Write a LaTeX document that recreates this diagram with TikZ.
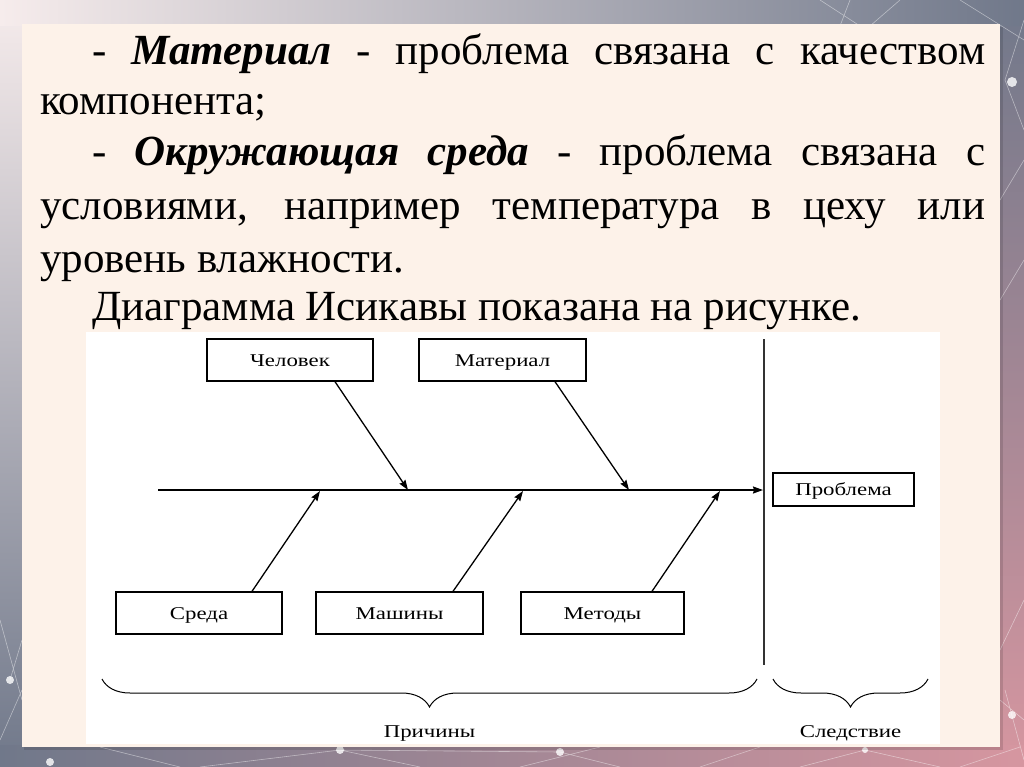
\documentclass[tikz,border=0pt]{standalone}
\usepackage{fontspec}
\setmainfont{Liberation Serif}
\newfontfamily\diagfont[FakeStretch=1.27]{Liberation Serif}
\usetikzlibrary{arrows.meta,decorations.pathreplacing}
\definecolor{cream}{RGB}{253,242,233}
\definecolor{slate}{RGB}{112,120,138}
\definecolor{blush}{RGB}{236,205,208}
\definecolor{rose}{RGB}{214,150,160}
\definecolor{mist}{RGB}{246,236,236}
\definecolor{mauve}{RGB}{170,140,155}
\begin{document}
\begin{tikzpicture}[x=1pt,y=-1pt,
  txt/.style={anchor=base west, inner sep=0, font=\fontsize{43}{50}\selectfont},
  box/.style={draw=black, line width=1.3pt, inner sep=0, text height=12pt, text depth=0pt, font=\diagfont\fontsize{18}{20}\selectfont},
  lbl/.style={anchor=base, inner sep=0, font=\diagfont\fontsize{18}{20}\selectfont},
  arr/.style={line width=1.3pt, -{Stealth[length=10pt,width=7pt,inset=1pt]}},
  net/.style={white, opacity=0.45, line width=0.6pt},
  dot/.style={white, opacity=0.8},
  brc/.style={line width=1pt, decorate, decoration={brace, mirror, amplitude=28pt}}
]
\useasboundingbox (0,0) rectangle (1024,767);
% background frame
\fill[slate] (0,0) rectangle (1024,767);
\shade[top color=mist, bottom color=slate] (0,0) rectangle (24,767);
\shade[top color=slate, bottom color=rose] (998,0) rectangle (1024,767);
\shade[left color=mist, middle color=blush, right color=slate] (0,0) rectangle (1024,26);
\shade[left color=slate, middle color=mauve, right color=rose] (0,745) rectangle (1024,767);
% network lines
\draw[net] (820,0) -- (860,26) (850,0) -- (840,26) (900,0) -- (870,26) (960,0) -- (1024,40)
  (1005,80) -- (1024,20) (1005,80) -- (1024,130) (1000,200) -- (1024,160) (1000,300) -- (1024,260)
  (1000,650) -- (1024,600) (1000,700) -- (1024,720) (1005,690) -- (1024,760)
  (0,620) -- (22,700) (10,680) -- (22,640) (0,740) -- (22,690)
  (100,747) -- (180,767) (200,767) -- (340,750) (340,750) -- (420,767) (340,750) -- (560,752)
  (560,752) -- (620,767) (520,767) -- (600,747) (700,767) -- (760,747) (865,750) -- (940,767)
  (800,767) -- (865,750) (960,767) -- (1020,747);
\fill[dot] (1012,82) circle (5pt) (10,680) circle (4pt) (340,750) circle (4pt)
  (560,752) circle (4pt) (865,750) circle (3pt) (50,762) circle (4pt) (1012,715) circle (4pt);
% panel
\fill[black, opacity=0.12] (24,27) rectangle (1003,750);
\fill[cream] (22,24) rectangle (1000,747);
\fill[white] (86,332) rectangle (940,744);
% text
\node[txt] (l1) at (92,65) {\makebox[893pt][s]{- \textbf{\textit{Материал}} - проблема связана с качеством}};
\node[txt] (l2) at (40,115) {компонента;};
\node[txt] (l3) at (92,166) {\makebox[893pt][s]{- \textbf{\textit{Окружающая среда}} - проблема связана с}};
\node[txt] (l4) at (40,220) {\makebox[945pt][s]{условиями, например температура в цеху или}};
\node[txt] (l5) at (40,272) {уровень влажности.};
\node[txt] (l6) at (92,320) {Диаграмма Исикавы показана на рисунке.};
% fishbone boxes
\node[box, minimum width=166pt, minimum height=42pt] (chel) at (290,360) {Человек};
\node[box, minimum width=167pt, minimum height=42pt] (mat) at (502.5,360) {Материал};
\node[box, minimum width=141pt, minimum height=33pt] (prob) at (843.5,489.5) {Проблема};
\node[box, minimum width=166pt, minimum height=42pt] (sreda) at (199,613) {Среда};
\node[box, minimum width=167pt, minimum height=42pt] (mash) at (399.5,613) {Машины};
\node[box, minimum width=163pt, minimum height=42pt] (met) at (602.5,613) {Методы};
% spine and separator
\coordinate (tail) at (158,490);
\coordinate (head) at (763,490);
\coordinate (vtop) at (764,339);
\coordinate (vbot) at (764,665);
\draw[black!80, line width=1.2pt] (vtop) -- (vbot);
\draw[arr, line width=1.5pt] (tail) -- (head);
\coordinate (t1) at (408,490);
\coordinate (t2) at (629,490);
\coordinate (b1) at (320,491);
\coordinate (b2) at (523,491);
\coordinate (b3) at (720,491);
\draw[arr] ([xshift=45pt]chel.south) -- (t1);
\draw[arr] ([xshift=52.5pt]mat.south) -- (t2);
\draw[arr] ([xshift=53pt]sreda.north) -- (b1);
\draw[arr] ([xshift=53.5pt]mash.north) -- (b2);
\draw[arr] ([xshift=49.5pt]met.north) -- (b3);
% braces
\coordinate (c1) at (102,679);
\coordinate (c2) at (757,679);
\coordinate (e1) at (773,679);
\coordinate (e2) at (928,679);
\draw[brc] (c1) -- (c2);
\draw[brc] (e1) -- (e2);
\node[lbl] (prich) at (429.5,737) {Причины};
\node[lbl] (sled) at (850.5,737) {Следствие};
\end{tikzpicture}
\end{document}
